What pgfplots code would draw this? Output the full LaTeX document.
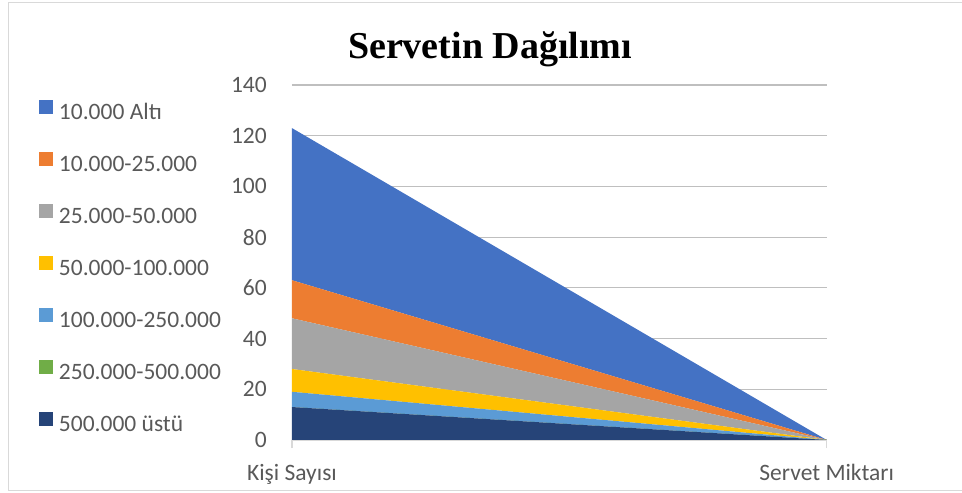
\documentclass[border=0pt]{standalone}
\usepackage{pgfplots}
\pgfplotsset{compat=1.18}
\usepackage{fontspec}
\setmainfont{Carlito}
\newfontfamily\titlefont{Liberation Serif}
\definecolor{cBlue}{HTML}{4472C4}
\definecolor{cOrange}{HTML}{ED7D31}
\definecolor{cGrey}{HTML}{A5A5A5}
\definecolor{cYellow}{HTML}{FFC000}
\definecolor{cLBlue}{HTML}{5B9BD5}
\definecolor{cGreen}{HTML}{70AD47}
\definecolor{cNavy}{HTML}{264478}
\definecolor{txt}{HTML}{595959}
\definecolor{grid}{HTML}{D9D9D9}
\begin{document}
\begin{tikzpicture}[x=1pt,y=1pt]
\path[use as bounding box] (0,0) rectangle (962,493);
\draw[grid, line width=1.2pt] (962,490.5) -- (8.5,490.5) -- (8.5,2.5) -- (962,2.5);
\node[anchor=base, font=\titlefont\bfseries\fontsize{38}{44}\selectfont] at (490,434) {Servetin Dağılımı};
\begin{axis}[
  at={(292pt,53pt)}, anchor=south west,
  scale only axis, width=534.7pt, height=355pt,
  xmin=0, xmax=1, ymin=0, ymax=140,
  ytick={0,20,...,140},
  xtick={0,1},
  xticklabels={Kişi Sayısı, Servet Miktarı},
  /pgf/number format/assume math mode=true,
  stack plots=y,
  axis lines=left,
  axis line style={-},
  y axis line style={draw=none},
  x axis line style={draw=grid, line width=1.2pt},
  ymajorgrids, xmajorgrids=false, grid style={grid, line width=1.2pt},
  ytick style={draw=none},
  xtick style={draw=grid, line width=1.2pt},
  xtick align=outside, major tick length=8pt,
  tick label style={text=txt, font=\fontsize{23.5}{28}\selectfont},
  yticklabel style={inner sep=0pt, xshift=-21pt},
  xticklabel style={inner sep=0pt, anchor=base, yshift=-32pt},
  reverse legend,
  legend cell align=left,
  legend image code/.code={\fill[#1,draw=none] (0pt,0pt) rectangle (14pt,14pt);},
  legend style={draw=none, fill=none, inner sep=0pt, outer sep=0pt,
    at={(axis description cs:-0.4732,0.959)}, anchor=north west,
    font=\fontsize{23.5}{28}\selectfont, text=txt,
    row sep=27.6pt, column sep=6pt,
    nodes={inner sep=0pt, text height=16pt, text depth=5pt}},
]
\addplot[fill=cNavy, draw=none] coordinates {(0,13) (1,0)} \closedcycle;
\addlegendentry{500.000 üstü}
\addplot[fill=cGreen, draw=none] coordinates {(0,0) (1,0)} \closedcycle;
\addlegendentry{250.000-500.000}
\addplot[fill=cLBlue, draw=none] coordinates {(0,6) (1,0)} \closedcycle;
\addlegendentry{100.000-250.000}
\addplot[fill=cYellow, draw=none] coordinates {(0,9) (1,0)} \closedcycle;
\addlegendentry{50.000-100.000}
\addplot[fill=cGrey, draw=none] coordinates {(0,20) (1,0)} \closedcycle;
\addlegendentry{25.000-50.000}
\addplot[fill=cOrange, draw=none] coordinates {(0,15) (1,0)} \closedcycle;
\addlegendentry{10.000-25.000}
\addplot[fill=cBlue, draw=none] coordinates {(0,60) (1,0)} \closedcycle;
\addlegendentry{10.000 Altı}
\end{axis}
\end{tikzpicture}
\end{document}
